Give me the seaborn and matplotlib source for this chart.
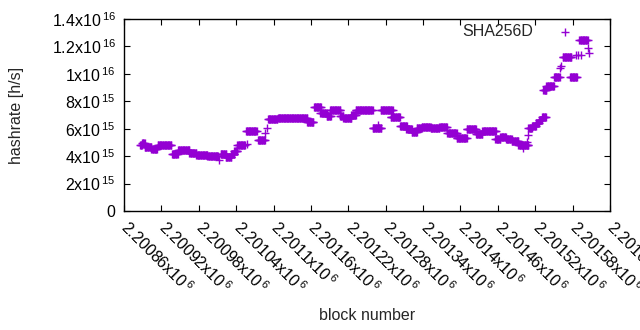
import numpy as np
import pandas as pd
import matplotlib
matplotlib.use("Agg")
import matplotlib.pyplot as plt
from matplotlib.transforms import ScaledTranslation
import seaborn as sns

# ================================
# Data
# ================================
BASE = 2200860

# runs of blocks with a constant hashrate: offset from BASE, value in 1e15 h/s
seg_start = [26, 29, 33, 44, 54, 77, 87, 105, 116, 134, 155, 163, 172, 177, 182,
             196, 215, 231, 247, 294, 305, 315, 325, 331, 347, 352, 365, 372,
             399, 412, 428, 443, 453, 462, 470, 478, 492, 506, 519, 534, 550,
             565, 575, 596, 604, 613, 622, 633, 649, 655, 661, 666, 671, 673,
             678, 690, 704, 716, 731]
seg_end = [29, 33, 44, 53, 76, 86, 105, 116, 134, 151, 164, 172, 177, 182, 194,
           213, 226, 246, 294, 304, 316, 325, 332, 347, 352, 365, 372, 399,
           413, 431, 443, 454, 462, 470, 478, 492, 506, 518, 534, 550, 565,
           575, 597, 604, 613, 622, 633, 649, 655, 661, 666, 671, 677, 678,
           690, 699, 718, 727, 744]
seg_value = [4.83, 4.96, 4.69, 4.50, 4.79, 4.18, 4.43, 4.23, 4.06, 3.99, 4.13,
             3.94, 4.16, 4.40, 4.81, 5.81, 5.18, 6.69, 6.76, 6.51, 7.56, 7.17,
             6.95, 7.34, 6.95, 6.76, 7.00, 7.34, 6.05, 7.39, 6.85, 6.18, 5.96,
             5.74, 6.03, 6.13, 6.07, 6.15, 5.67, 5.30, 5.96, 5.59, 5.81, 5.27,
             5.42, 5.23, 5.08, 4.83, 6.02, 6.23, 6.45, 6.60, 6.85, 8.82, 9.15,
             9.79, 11.2, 9.75, 12.47]

# single blocks
pt_block = [152, 197, 227, 229, 408, 640, 647, 649, 699, 701, 725, 729, 733,
            744, 746]
pt_value = [3.75, 4.89, 5.70, 6.05, 6.30, 4.60, 5.05, 5.56, 10.4, 10.6, 11.4,
            11.4, 11.4, 11.86, 11.5]

x_ticks = [BASE + 60 * i for i in range(14)]
y_ticks = [0, 2e15, 4e15, 6e15, 8e15, 1e16, 1.2e16, 1.4e16]
y_ticklabels = ["0", "2x10$^{\\,15}$", "4x10$^{\\,15}$", "6x10$^{\\,15}$",
                "8x10$^{\\,15}$", "1x10$^{\\,16}$", "1.2x10$^{\\,16}$",
                "1.4x10$^{\\,16}$"]

blocks, rates = [], []
for s, e, v in zip(seg_start, seg_end, seg_value):
    for b in range(s, e + 1):
        blocks.append(BASE + b)
        rates.append(v * 1e15)
for b, v in zip(pt_block, pt_value):
    blocks.append(BASE + b)
    rates.append(v * 1e15)
df = pd.DataFrame({"block": blocks, "hashrate": rates})

# ================================
# Plot
# ================================
sns.set_style("ticks")
plt.rcParams["font.family"] = ["Liberation Sans", "DejaVu Sans"]
plt.rcParams["mathtext.default"] = "regular"
plt.rcParams["font.size"] = 11.5

fig = plt.figure(figsize=(6.4, 3.3), dpi=100)
ax = fig.add_axes([124 / 640, 1 - 211 / 330, 486 / 640, 192 / 330])

sns.scatterplot(data=df, x="block", y="hashrate", marker="+", s=32,
                color="#9400d3", linewidth=1.0, ax=ax, label="SHA256D")

ax.set_xlim(x_ticks[0], x_ticks[-1])
ax.set_ylim(0, 1.4e16)
ax.set_xticks(x_ticks)
ax.set_xticklabels([f"{t / 1e6:.5f}".rstrip("0") + "x10$^{\\,6}$" for t in x_ticks],
                   rotation=-45, ha="left", va="top", rotation_mode="anchor")
ax.set_yticks(y_ticks)
ax.set_yticklabels(y_ticklabels)
ax.tick_params(direction="in", length=4, width=0.8, top=True, right=True,
               labelsize=11.5, colors="black")
ax.tick_params(axis="x", pad=5)
ax.tick_params(axis="y", pad=6)
shift = ScaledTranslation(7 / 100, 0, fig.dpi_scale_trans)
for lab in ax.get_xticklabels():
    lab.set_transform(lab.get_transform() + shift)
for sp in ax.spines.values():
    sp.set_linewidth(1.0)
    sp.set_color("black")

ax.set_xlabel("block number", fontsize=11.5)
ax.set_ylabel("hashrate [h/s]", fontsize=11.5)
ax.xaxis.set_label_coords(0.5, -0.505)
ax.yaxis.set_label_coords(-0.205, 0.5)

ax.legend(loc="upper right", bbox_to_anchor=(0.969, 1.047), frameon=False,
          markerfirst=False, handletextpad=1.0, fontsize=11.5)

fig.savefig("out.png", dpi=100)
